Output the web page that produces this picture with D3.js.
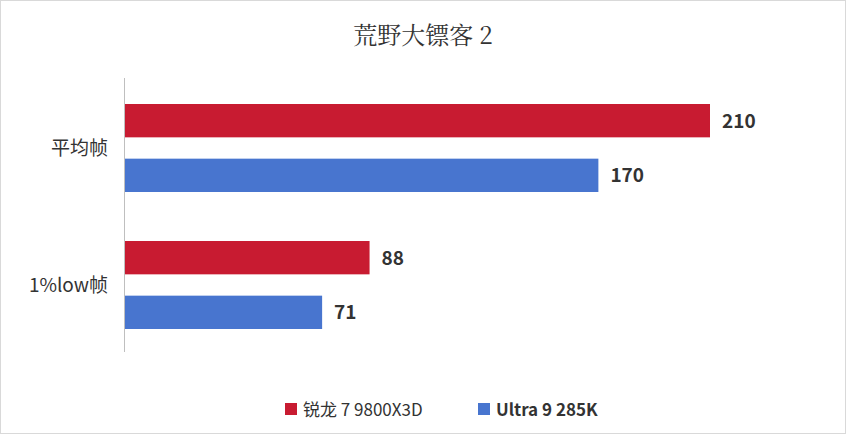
<!DOCTYPE html>
<html><head><meta charset="utf-8">
<script src="https://cdn.jsdelivr.net/npm/d3@7"></script>
<style>body{margin:0;background:#fff}</style>
</head><body><svg id="c" width="846" height="434"></svg>
<script>
var categories = ["平均帧", "1%low帧"];
var seriesNames = ["锐龙 7 9800X3D", "Ultra 9 285K"];
var ryzen = [210, 88];
var ultra = [170, 71];
var colors = ["#C81B31", "#4875CF"];

var svg = d3.select("#c");
svg.append("rect").attr("x",0.5).attr("y",0.5).attr("width",845).attr("height",433)
	.attr("fill","#fff").attr("stroke","#d9d9d9");
svg.append("text").attr("x",423).attr("y",44).attr("text-anchor","middle")
	.attr("font-family","Noto Serif CJK SC, Noto Sans CJK SC").attr("font-size",24).attr("fill","#333")
	.text("荒野大镖客 2");

var x = d3.scaleLinear().domain([0,210]).range([124,710]);
var y = d3.scaleBand().domain(categories).range([78,352]).paddingInner(0.0).paddingOuter(0);
var inner = d3.scaleBand().domain([0,1]).range([26,114]).paddingInner(0.39);

var g = svg.append("g");
categories.forEach(function(c, i) {
	var vals = [ryzen[i], ultra[i]];
	vals.forEach(function(v, s) {
		var yy = y(c) + inner(s);
		g.append("rect").attr("x",x(0)).attr("y",yy).attr("width",x(v)-x(0))
			.attr("height",inner.bandwidth()).attr("fill",colors[s]);
		g.append("text").attr("x",x(v)+12).attr("y",yy+inner.bandwidth()/2+7)
			.attr("font-family","Noto Sans CJK SC").attr("font-weight","bold").attr("font-size",19)
			.attr("fill","#333").text(v);
	});
	g.append("text").attr("x",108).attr("y",y(c)+y.bandwidth()/2+8).attr("text-anchor","end")
		.attr("font-family","Noto Sans CJK SC").attr("font-size",19).attr("fill","#333").text(c);
});
svg.append("line").attr("x1",124.5).attr("x2",124.5).attr("y1",78).attr("y2",352)
	.attr("stroke","#bfbfbf");

var lx = [285, 478];
seriesNames.forEach(function(n, s) {
	svg.append("rect").attr("x",lx[s]).attr("y",403).attr("width",12).attr("height",12).attr("fill",colors[s]);
	svg.append("text").attr("x",lx[s]+18).attr("y",416).attr("font-family","Noto Sans CJK SC")
		.attr("font-weight", s==0 ? "normal" : "bold").attr("font-size",17).attr("fill","#333").text(n);
});
</script></body></html>
